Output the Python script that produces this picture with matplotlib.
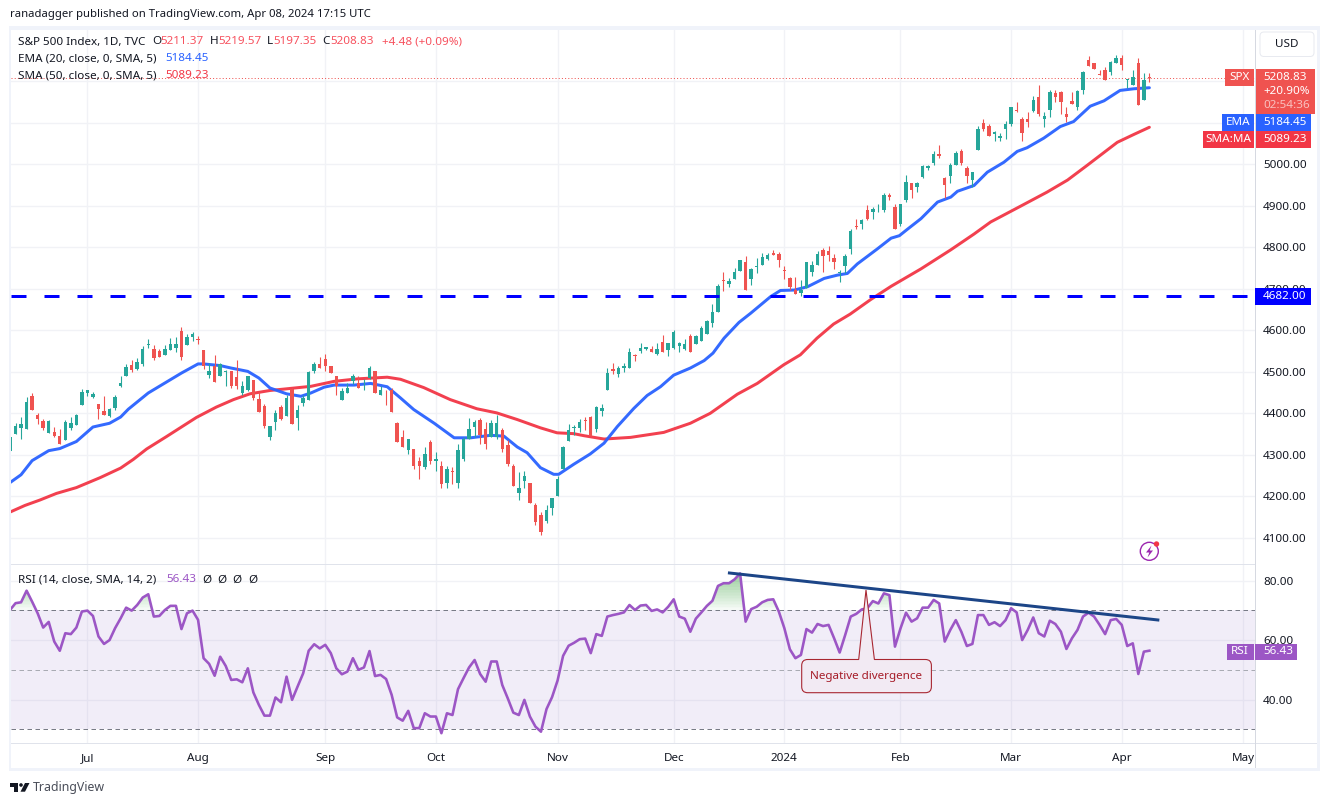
import numpy as np
import matplotlib
matplotlib.use("Agg")
import matplotlib.pyplot as plt
from matplotlib.patches import Rectangle, Circle, Polygon, PathPatch, FancyBboxPatch
from matplotlib.path import Path

plt.rcParams['font.family'] = ['Noto Sans', 'DejaVu Sans']
plt.rcParams['lines.scale_dashes'] = False

highs = [4342,4376,4392,4440,4450,4401,4387,4384,4367,4363,
 4384,4392,4399,4459,4457,4452,4423,4442,4413,4445,
 4491,4519,4529,4534,4563,4580,4565,4556,4565,4582,
 4585,4609,4592,4597,4587,4553,4522,4541,4522,4505,
 4503,4529,4478,4491,4481,4452,4423,4370,4408,4421,
 4445,4462,4421,4443,4501,4523,4535,4544,4515,4491,
 4460,4474,4494,4489,4482,4513,4501,4465,4455,4460,
 4378,4359,4339,4315,4294,4320,4335,4306,4284,4272,
 4270,4325,4344,4388,4385,4388,4378,4385,4395,4364,
 4335,4277,4258,4260,4233,4185,4161,4178,4197,4248,
 4321,4374,4372,4386,4391,4394,4418,4423,4509,4521,
 4514,4521,4557,4543,4570,4560,4562,4570,4589,4570,
 4601,4572,4579,4591,4589,4611,4625,4664,4712,4741,
 4726,4750,4770,4779,4750,4774,4786,4786,4794,4789,
 4755,4729,4729,4721,4765,4767,4791,4798,4803,4784,
 4745,4785,4843,4867,4867,4903,4898,4905,4930,4932,
 4905,4905,4975,4956,4958,4999,4999,5031,5047,4970,
 5004,5033,5038,4995,4982,5093,5110,5098,5081,5076,
 5105,5139,5149,5115,5127,5165,5190,5125,5180,5180,
 5177,5139,5175,5180,5226,5262,5245,5228,5235,5250,
 5264,5264,5206,5228,5257,5221,5219.57]
lows = [4308,4351,4338,4363,4408,4375,4360,4353,4343,4326,
 4336,4360,4372,4421,4442,4437,4387,4396,4392,4408,
 4464,4491,4500,4505,4515,4558,4529,4536,4541,4553,
 4548,4529,4565,4575,4568,4507,4486,4476,4491,4466,
 4462,4459,4445,4454,4433,4404,4365,4336,4360,4384,
 4394,4375,4359,4417,4433,4496,4508,4503,4496,4445,
 4433,4450,4470,4460,4455,4482,4450,4443,4419,4402,
 4330,4318,4303,4267,4241,4267,4277,4262,4219,4221,
 4229,4221,4286,4337,4344,4327,4313,4342,4339,4306,
 4272,4224,4190,4221,4183,4130,4106,4135,4154,4200,
 4266,4333,4348,4355,4360,4346,4355,4394,4456,4495,
 4488,4500,4509,4526,4546,4553,4548,4541,4548,4538,
 4555,4548,4553,4548,4567,4574,4591,4608,4644,4695,
 4704,4724,4743,4697,4709,4738,4757,4770,4782,4753,
 4724,4697,4688,4683,4702,4731,4757,4741,4767,4748,
 4717,4739,4785,4843,4843,4865,4869,4884,4886,4915,
 4843,4852,4908,4918,4934,4968,4987,4999,5016,4920,
 4956,4999,4999,4954,4946,5035,5081,5067,5057,5057,
 5062,5093,5127,5057,5091,5127,5117,5091,5115,5151,
 5122,5103,5146,5132,5170,5238,5230,5216,5202,5214,
 5245,5228,5185,5192,5144,5156,5197.35]
opens = [4308,4351,4365,4363,4442,4396,4382,4353,4355,4346,
 4336,4365,4372,4421,4450,4440,4423,4406,4394,4413,
 4466,4491,4517,4507,4519,4565,4556,4551,4541,4553,
 4558,4599,4565,4585,4580,4553,4493,4515,4491,4499,
 4503,4488,4450,4457,4481,4435,4418,4343,4380,4416,
 4394,4459,4388,4426,4433,4501,4520,4532,4513,4491,
 4433,4450,4479,4474,4465,4484,4501,4445,4449,4455,
 4376,4344,4311,4315,4284,4270,4330,4284,4272,4233,
 4260,4233,4289,4339,4366,4383,4361,4342,4344,4359,
 4323,4274,4209,4236,4233,4178,4154,4140,4171,4200,
 4266,4333,4365,4365,4384,4391,4362,4406,4456,4507,
 4495,4509,4509,4541,4550,4555,4555,4543,4572,4553,
 4557,4562,4555,4586,4567,4574,4591,4618,4644,4721,
 4712,4724,4743,4765,4724,4753,4757,4772,4786,4784,
 4745,4726,4697,4690,4702,4741,4757,4794,4791,4774,
 4738,4756,4795,4852,4855,4889,4884,4889,4891,4925,
 4898,4857,4913,4956,4946,4970,4992,5002,5026,4968,
 4973,4999,5031,4990,4961,5035,5100,5093,5072,5064,
 5084,5096,5132,5110,5108,5129,5163,5110,5132,5173,
 5175,5122,5153,5137,5180,5252,5243,5218,5228,5223,
 5245,5257,5204,5192,5245,5156,5211.37]
closes = [4342,4370,4375,4428,4408,4387,4365,4382,4346,4326,
 4380,4377,4396,4452,4457,4447,4411,4396,4411,4440,
 4474,4512,4505,4524,4556,4568,4534,4536,4556,4568,
 4568,4536,4585,4590,4577,4515,4503,4476,4519,4502,
 4466,4466,4466,4491,4437,4404,4370,4370,4401,4387,
 4437,4375,4407,4438,4500,4518,4508,4515,4496,4465,
 4453,4460,4489,4460,4467,4508,4450,4455,4448,4402,
 4330,4320,4339,4272,4274,4301,4286,4291,4229,4265,
 4258,4311,4339,4361,4378,4347,4327,4376,4376,4313,
 4277,4224,4219,4250,4185,4137,4115,4168,4195,4241,
 4319,4360,4367,4379,4382,4346,4415,4413,4497,4502,
 4509,4514,4548,4538,4557,4560,4548,4555,4548,4570,
 4596,4570,4567,4548,4586,4606,4623,4644,4707,4719,
 4719,4741,4770,4697,4748,4755,4777,4782,4782,4770,
 4743,4704,4688,4697,4765,4757,4784,4779,4782,4765,
 4741,4780,4840,4848,4865,4867,4893,4891,4927,4922,
 4843,4905,4958,4939,4954,4995,4997,5026,5019,4951,
 4999,5028,5002,4973,4982,5086,5086,5067,5079,5069,
 5096,5137,5129,5076,5103,5156,5122,5117,5175,5163,
 5149,5115,5146,5177,5223,5238,5230,5216,5202,5247,
 5255,5240,5206,5211,5144,5204,5208.83]

ema_x = [0,2,4,7,9,12,15,18,20,21.4,25,28,31,34,35,38,40,43,45,47,50,52.6,54.4,56.8,58.6,62.2,
 65.2,68.2,70.6,73,76.7,80.3,83.3,86.9,89.3,91.7,93.5,95.9,98.3,99.2,101.9,104.9,107.4,109.8,
 112.8,115.2,117.6,120,123,125.5,127.1,129.1,131.8,133.9,137.5,139.3,141.8,144.2,147.2,149.6,
 151.4,153.2,156.8,159.3,160.8,162.3,164.7,167.7,170.1,171.3,174.3,176.7,179.7,182.1,183.9,
 186.9,189.9,192.3,195.3,197.8,200.7,203.2,206]
ema_y = [4233,4252,4286,4310,4315,4332,4367,4376,4391,4410,4449,4473,4497,4519,4519,4515,4509,4501,
 4485,4461,4447,4441,4449,4463,4468,4468,4472,4464,4437,4409,4376,4341,4341,4347,4345,4319,4305,
 4269,4253,4253,4277,4302,4328,4368,4412,4443,4464,4492,4509,4527,4545,4581,4619,4641,4681,4696,
 4697,4705,4725,4733,4737,4760,4796,4822,4828,4844,4869,4909,4921,4935,4949,4981,5005,5031,5040,
 5063,5091,5103,5140,5153,5178,5182,5184.45]
sma_x = [0,2.7,5.4,8.4,12,16.3,20,22.3,24.7,28.3,33.7,37.3,40.4,43.4,47,50,54.4,58.6,62.8,68.2,70.6,
 74.8,79.6,84.4,88,91.7,95.9,98.9,101.9,103.8,107.4,112.2,118.2,123,126.6,131.5,135.1,139.9,142.9,
 145.9,148.9,151.9,155.6,159.3,164.7,170.1,174.3,177.3,182.7,187.5,191.2,194.8,200.2,203.2,206]
sma_y = [4162,4178,4191,4207,4221,4245,4268,4289,4314,4344,4390,4415,4433,4447,4455,4459,4465,4477,
 4483,4487,4482,4462,4433,4411,4401,4385,4365,4353,4351,4346,4338,4342,4354,4376,4400,4446,4472,
 4517,4541,4581,4615,4639,4674,4706,4748,4794,4832,4861,4899,4933,4962,4998,5053,5072,5089.23]

rsi = [70.1,72.4,72.7,76.6,72.9,69,64.2,66.1,59.5,56.4,62.3,62,64.2,69.6,69.9,68.1,61.2,58.7,60,64,
 67.3,70.9,69.9,71.8,74.3,75.4,67.9,68.1,70.1,71.5,71.5,63.7,69,69.9,66.8,53.9,52,48,54.4,51.3,
 46.6,46.8,45.8,50.5,42.4,38.2,34.6,34.6,40.7,39.1,47.7,39.9,44.4,48.8,56.4,58.6,57.2,58.4,55.6,50.5,
 48.5,49.4,53.9,50,50.8,56.3,47.9,48.3,46.9,41.6,34,32.9,36.2,30.4,30.4,35.4,34.3,34.3,28.7,35.4,
 34.8,43.5,47.2,50.8,53.3,48.6,46,52.8,52.8,44.9,40.4,35.6,34.8,39.9,34.3,30.9,29.2,36.8,40.8,46.4,
 54.7,58.1,59.1,60.3,60.5,55.6,62,61.4,67.9,68.4,68.8,69.3,71.8,70.1,71.6,71.8,69.8,70.3,69.3,71.2,
 73.7,67.9,67.2,62.8,67.2,69.3,71.5,73.2,78.2,79.1,79.1,80.4,82.4,66.2,70.4,71.2,72.7,73.5,73.7,69.6,
 64,56.9,53.9,55,63.7,62.5,65.4,64.7,65.1,60.6,55.8,61.7,67.9,68.8,70.3,70.7,73.1,72.3,75.7,75.1,
 57.8,63.9,69.2,66.2,67.3,70.9,70.9,73.5,72.3,59.5,63.4,66.7,62.8,58,58.7,68.4,68.4,65.1,66,64.7,
 66.7,70.7,69.3,60,63.4,67.6,62.3,61.2,66.5,65.4,62.8,57,60.6,63.4,67.9,69.2,67.9,65.1,62,66.7,
 67.1,65.1,58,58.9,48.6,56.1,56.43]

price_ticks = [4100,4200,4300,4400,4500,4600,4700,4800,4900,5000,5100,5200]
price_tick_labels = ['4100.00','4200.00','4300.00','4400.00','4500.00','4600.00','4700.00',
                     '4800.00','4900.00','5000.00','','']
rsi_ticks = [40,60,80]
month_bars = [14,34,57,77,99,120,140,161,181,201,223]
month_labels = ['Jul','Aug','Sep','Oct','Nov','Dec','2024','Feb','Mar','Apr','May']
support_level = 4682
trend_x = [129.8,207.8]
trend_y = [82.6,66.7]

W, H = 1329, 806
GREEN, RED = '#26A69A', '#EF5350'
BLUE, SMAC = '#2962FF', '#F23645'
PURPLE = '#9C56C5'
GRID = '#F1F2F6'
TEXT = '#131722'
px = 0.72  # one pixel in points

fig = plt.figure(figsize=(W/100, H/100), dpi=100, facecolor='white')

def pane(l, t, r, b):
    return fig.add_axes([l/W, 1-b/H, (r-l)/W, (b-t)/H])

L, R = 11, 1255
x0, dx = 10.0, 5.531
xlim = ((L-x0)/dx, (R-x0)/dx)

ax = pane(L, 30, R, 564.5)
ax.set_xlim(*xlim)
ax.set_ylim(4035.7, 5323.6)
ar = pane(L, 564.5, R, 743)
ar.set_xlim(*xlim)
ar.set_ylim(25.4, 85.4)

for a in (ax, ar):
    for s in a.spines.values():
        s.set_visible(False)
    a.set_xticks(month_bars)
    a.grid(True, color=GRID, lw=1.4*px)
    a.set_axisbelow(True)
    a.yaxis.tick_right()
    a.tick_params(axis='both', length=0, labelsize=8.4, labelcolor=TEXT, pad=5.8)

ax.set_yticks(price_ticks)
ax.set_yticklabels(price_tick_labels)
ax.tick_params(axis='x', labelbottom=False)
ar.set_yticks(rsi_ticks)
ar.set_yticklabels([f'{v:.2f}' for v in rsi_ticks])
ar.set_xticklabels(month_labels)
ar.tick_params(axis='x', pad=7)
ar.get_xticklabels()[6].set_fontweight('bold')

# price pane
idx = np.arange(len(closes))
o, h, l, c = map(np.array, (opens, highs, lows, closes))
up = c >= o
cols = np.where(up, GREEN, RED)
ax.axhline(closes[-1], color=RED, lw=1*px, dashes=(1*px, 2.2*px), zorder=1.5)
ax.plot(sma_x, sma_y, color=SMAC, lw=3*px, solid_capstyle='round', zorder=2, alpha=.95)
ax.plot(ema_x, ema_y, color=BLUE, lw=3*px, solid_capstyle='round', zorder=2.2, alpha=.95)
ax.vlines(idx, l, h, colors=cols, lw=1.1*px, zorder=3)
ax.bar(idx, np.maximum(np.abs(c-o), 1.2), bottom=np.minimum(o, c), width=0.62, color=cols, zorder=3.1)
ax.plot(xlim, [support_level]*2, color='#0000FF', lw=3*px, dashes=(15*px, 18*px),
        dash_capstyle='butt', zorder=4)

# rsi pane
ar.axhspan(30, 70, color='#7E57C2', alpha=.1, lw=0, zorder=0.8)
for lev, colr in ((70, '#787B86'), (50, '#A9ABB3'), (30, '#787B86')):
    ar.axhline(lev, color=colr, lw=1*px, dashes=(4.5*px, 3.5*px), zorder=1)
rsa = np.array(rsi)
for lev in np.arange(70, 84, 1.0):
    ar.fill_between(idx, lev, rsa, where=rsa > lev, interpolate=True,
                    color='#4CAF50', alpha=.05, lw=0, zorder=1.2)
ar.plot(idx, rsi, color=PURPLE, lw=2.6*px, solid_joinstyle='round', zorder=2)
ar.plot(trend_x, trend_y, color='#1C4587', lw=3*px, solid_capstyle='butt', zorder=3)

# overlay in pixel coordinates
ov = fig.add_axes([0, 0, 1, 1], zorder=10)
ov.set_xlim(0, W)
ov.set_ylim(H, 0)
ov.axis('off')
ov.patch.set_visible(False)

def rect(x1, y1, x2, y2, col, z=1):
    ov.add_patch(Rectangle((x1, y1), x2-x1, y2-y1, facecolor=col, edgecolor='none', zorder=z))

# frame and dividers
FR = '#F0F3FA'
rect(8.5, 26, 1319.5, 29.5, FR)
rect(8.5, 767.5, 1319.5, 770.5, FR)
rect(8.5, 26, 11, 770.5, FR)
rect(1317, 26, 1319.5, 770.5, FR)
rect(11, 564, 1255, 565.2, '#E0E3EB')
rect(11, 742.5, 1317, 743.7, '#E0E3EB')
rect(1254.8, 29.5, 1256, 767.5, '#D6D9E1')

def t(x, y, s, col=TEXT, size=8.4, ha='left', **kw):
    ov.text(x, y, s, color=col, fontsize=size, ha=ha, va='center', zorder=5, **kw)

# header
t(10, 15, 'ranadagger published on TradingView.com, Apr 08, 2024 17:15 UTC', size=8.15)
VAL = '#F7525F'
t(17.7, 42, 'S&P 500 Index, 1D, TVC')
for xl, lab, xv, val in ((152.3, 'O', 160.7, '5211.37'), (210, 'H', 218.3, '5219.57'),
                         (267.3, 'L', 273.3, '5197.35'), (322.7, 'C', 330.5, '5208.83')):
    t(xl, 42, lab)
    t(xv, 42, val, VAL)
t(382, 42, '+4.48 (+0.09%)', VAL)
t(17.7, 58.7, 'EMA (20, close, 0, SMA, 5)')
t(165.7, 58.7, '5184.45', BLUE)
t(17.7, 75.7, 'SMA (50, close, 0, SMA, 5)')
t(165.7, 75.7, '5089.23', SMAC)
t(17.7, 580, 'RSI (14, close, SMA, 14, 2)')
t(166, 580, '56.43', PURPLE)
for xp in (206.7, 222, 236.7, 253):
    t(xp, 580, '\u00d8', ha='center')

# price-scale labels
ov.add_patch(FancyBboxPatch((1260, 32), 54, 24.5, boxstyle='round,pad=0,rounding_size=4',
                            facecolor='white', edgecolor='#E8EAF0', lw=1*px, zorder=2))
t(1287, 44.5, 'USD', ha='center')
rect(1225, 69, 1254, 85.8, RED, 3)
t(1239.5, 77.3, 'SPX', 'white', ha='center')
rect(1255.5, 69, 1315, 114, RED, 3)
t(1263, 77.3, '5208.83', 'white')
t(1263, 91.5, '+20.90%', 'white')
t(1263, 105.5, '02:54:36', '#F9C0BE')
rect(1222, 114.3, 1254, 130.8, BLUE, 3)
t(1238, 122.5, 'EMA', 'white', ha='center')
rect(1255.5, 114.3, 1311, 130.8, BLUE, 3)
t(1263, 122.5, '5184.45', 'white')
rect(1203, 131, 1254, 147.8, SMAC, 3)
t(1228.5, 139.4, 'SMA:MA', 'white', ha='center')
rect(1255.5, 131, 1311, 147.8, SMAC, 3)
t(1263, 139.4, '5089.23', 'white')
rect(1255, 288, 1311, 304.7, '#0000FF', 3)
t(1263, 296.3, '4682.00', 'white')
rect(1227, 643.5, 1253.5, 660, PURPLE, 3)
t(1240, 651.6, 'RSI', 'white', ha='center')
rect(1255, 643.5, 1297, 660, PURPLE, 3)
t(1263, 651.6, '56.43', 'white')

# negative divergence callout
x1, x2, y1, y2, rd = 801.7, 931.4, 659.5, 692.7, 6
V = [(x1+rd, y1), (858.7, y1), (866, 590), (874.4, y1), (x2-rd, y1), (x2, y1), (x2, y1+rd),
     (x2, y2-rd), (x2, y2), (x2-rd, y2), (x1+rd, y2), (x1, y2), (x1, y2-rd), (x1, y1+rd), (x1, y1), (x1+rd, y1)]
C = [Path.MOVETO, Path.LINETO, Path.LINETO, Path.LINETO, Path.LINETO, Path.CURVE3, Path.CURVE3,
     Path.LINETO, Path.CURVE3, Path.CURVE3, Path.LINETO, Path.CURVE3, Path.CURVE3, Path.LINETO, Path.CURVE3, Path.CURVE3]
ov.add_patch(PathPatch(Path(V, C), facecolor='#F2EAF3', edgecolor='#A82631', lw=1.1*px, zorder=2))
t(866.5, 676, 'Negative divergence', '#A61C28', size=8.4, ha='center')

# earnings icon
ov.add_patch(Circle((1149.3, 551.3), 9, facecolor='none', edgecolor='#9C27B0', lw=1.4*px, zorder=3))
ov.add_patch(Polygon([(1151.5, 545.5), (1146, 552.5), (1149.3, 552.5), (1147.5, 557.5),
                      (1153, 550.5), (1149.7, 550.5)], facecolor='#9C27B0', edgecolor='none', zorder=3))
ov.add_patch(Circle((1156.5, 544), 2.7, facecolor='#F23645', edgecolor='none', zorder=4))

# footer logo and wordmark
LOGO = '#131722'
ov.add_patch(Polygon([(10, 783), (18, 783), (18, 791.7), (14, 791.7), (14, 786.6), (10, 786.6)],
                     facecolor=LOGO, edgecolor='none'))
ov.add_patch(Circle((21, 785), 1.8, facecolor=LOGO, edgecolor='none'))
ov.add_patch(Polygon([(25, 783), (29.5, 783), (25, 791.7), (20.5, 791.7)], facecolor=LOGO, edgecolor='none'))
t(33, 788, 'TradingView', '#4A4E59', size=8.9)

fig.savefig('out.png', dpi=100, facecolor='white')
